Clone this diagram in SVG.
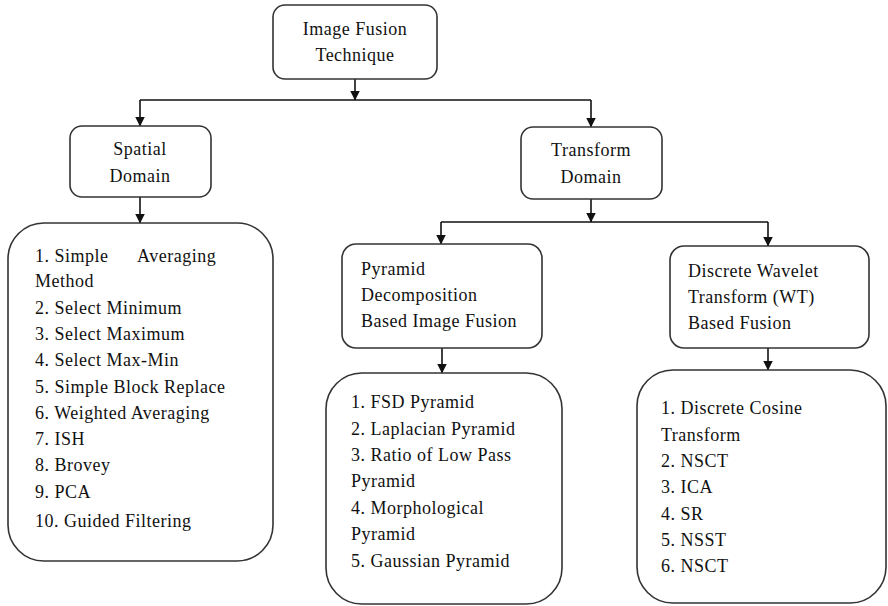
<svg xmlns="http://www.w3.org/2000/svg" width="888" height="606" viewBox="0 0 888 606">
<defs>
<marker id="ah" viewBox="0 0 10 12" refX="9.5" refY="6" markerWidth="10" markerHeight="12" markerUnits="userSpaceOnUse" orient="auto">
<path d="M0,1 L10,6 L0,11 z" fill="#111"/>
</marker>
<style>
.box{fill:#fff;stroke:#333;stroke-width:1.6}
.ln{fill:none;stroke:#111;stroke-width:1.6}
.ar{fill:none;stroke:#111;stroke-width:1.6;marker-end:url(#ah)}
text{font-size:18px;fill:#111;letter-spacing:0.5px}
.c{text-anchor:middle}
</style>
</defs>
<rect width="888" height="606" fill="#fff"/>
<g id="connectors">
<path class="ar" d="M355,79 V100"/>
<path class="ln" d="M140,100 H591"/>
<path class="ar" d="M140,100 V126"/>
<path class="ar" d="M591,100 V127"/>
<path class="ar" d="M140,197 V223"/>
<path class="ar" d="M591,199 V222"/>
<path class="ln" d="M441,222 H768"/>
<path class="ar" d="M441,222 V244"/>
<path class="ar" d="M768,222 V246"/>
<path class="ar" d="M442,348 V373"/>
<path class="ar" d="M768,348 V370"/>
</g>
<g font-family="'Liberation Serif', 'Times New Roman', 'DejaVu Serif', serif">
<g id="image-fusion">
<rect class="box" x="273" y="5" width="164" height="74" rx="12"/>
<text class="c" x="355" y="35">Image Fusion</text>
<text class="c" x="355" y="61">Technique</text>
</g>
<g id="spatial-domain">
<rect class="box" x="70" y="126" width="141" height="71" rx="12"/>
<text class="c" x="140" y="155">Spatial</text>
<text class="c" x="140" y="182">Domain</text>
</g>
<g id="transform-domain">
<rect class="box" x="521" y="127" width="141" height="72" rx="12"/>
<text class="c" x="591" y="156">Transform</text>
<text class="c" x="591" y="183">Domain</text>
</g>
<g id="spatial-list">
<rect class="box" x="8" y="223" width="265" height="338" rx="36"/>
<text x="35" y="262">1. Simple</text>
<text x="137" y="262">Averaging</text>
<text x="35" y="287">Method</text>
<text x="35" y="314">2. Select Minimum</text>
<text x="35" y="340">3. Select Maximum</text>
<text x="35" y="366">4. Select Max-Min</text>
<text x="35" y="393">5. Simple Block Replace</text>
<text x="35" y="419">6. Weighted Averaging</text>
<text x="35" y="445">7. ISH</text>
<text x="35" y="471">8. Brovey</text>
<text x="35" y="498">9. PCA</text>
<text x="35" y="527">10. Guided Filtering</text>
</g>
<g id="pyramid">
<rect class="box" x="342" y="244" width="200" height="104" rx="14"/>
<text x="361" y="275">Pyramid</text>
<text x="361" y="301">Decomposition</text>
<text x="361" y="327">Based Image Fusion</text>
</g>
<g id="dwt">
<rect class="box" x="670" y="246" width="199" height="102" rx="14"/>
<text x="688" y="277">Discrete Wavelet</text>
<text x="688" y="303">Transform (WT)</text>
<text x="688" y="329">Based Fusion</text>
</g>
<g id="pyramid-list">
<rect class="box" x="326" y="373" width="236" height="231" rx="36"/>
<text x="351" y="408">1. FSD Pyramid</text>
<text x="351" y="435">2. Laplacian Pyramid</text>
<text x="351" y="461">3. Ratio of Low Pass</text>
<text x="351" y="487">Pyramid</text>
<text x="351" y="514">4. Morphological</text>
<text x="351" y="540">Pyramid</text>
<text x="351" y="567">5. Gaussian Pyramid</text>
</g>
<g id="dwt-list">
<rect class="box" x="637" y="370" width="249" height="233" rx="36"/>
<text x="661" y="414">1. Discrete Cosine</text>
<text x="661" y="441">Transform</text>
<text x="661" y="467">2. NSCT</text>
<text x="661" y="493">3. ICA</text>
<text x="661" y="520">4. SR</text>
<text x="661" y="546">5. NSST</text>
<text x="661" y="572">6. NSCT</text>
</g>
</g>
</svg>
